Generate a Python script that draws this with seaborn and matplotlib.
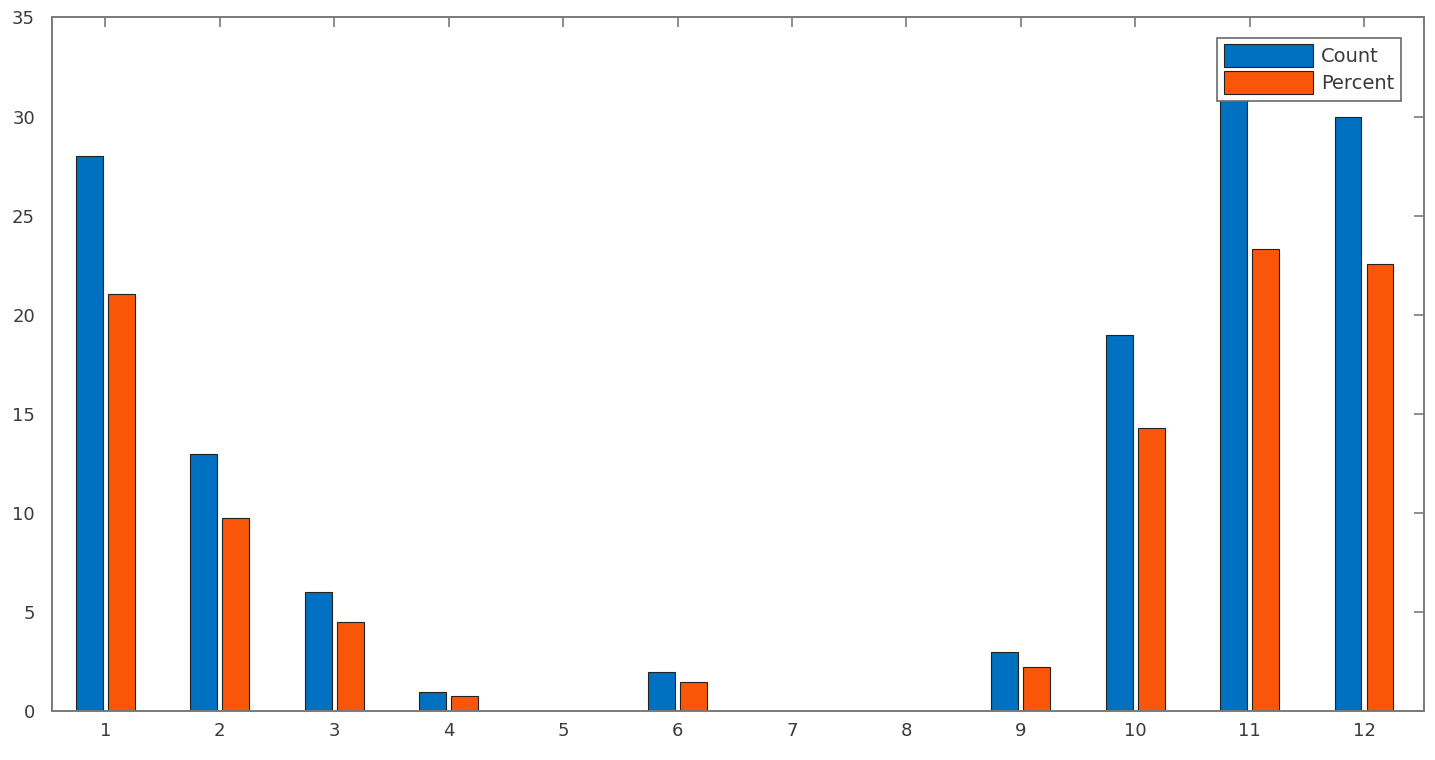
import pandas as pd
import matplotlib.pyplot as plt
import seaborn as sns

# data
categories = ['1', '2', '3', '4', '5', '6', '7', '8', '9', '10', '11', '12']
count = [28, 13, 6, 1, 0, 2, 0, 0, 3, 19, 31, 30]
percent = [21.05, 9.77, 4.51, 0.75, 0, 1.50, 0, 0, 2.26, 14.29, 23.31, 22.56]

df = pd.DataFrame({
    'Category': categories * 2,
    'Value': count + percent,
    'Series': ['Count'] * len(categories) + ['Percent'] * len(categories),
})

sns.set_theme(style="white")
plt.rcParams['font.family'] = ['DejaVu Sans']

fig = plt.figure(figsize=(14.35, 7.6), dpi=100)
ax = fig.add_axes([0.036, 0.064, 0.956, 0.913])

sns.barplot(
    data=df, x='Category', y='Value', hue='Series',
    palette=['#0070C0', '#FA560A'], width=0.56, gap=0.16,
    edgecolor='#222222', linewidth=0.8, saturation=1, ax=ax,
)

ax.set_xlim(-0.47, 11.52)
ax.set_ylim(0, 35)
ax.set_yticks(range(0, 36, 5))
ax.set_xlabel('')
ax.set_ylabel('')

for s in ax.spines.values():
    s.set_visible(True)
    s.set_color('#7a7a7a')
    s.set_linewidth(1.4)

ax.tick_params(axis='both', direction='in', top=True, right=True,
               length=7, width=1.2, color='#7a7a7a',
               labelsize=13, labelcolor='#3a3a3a', pad=8)
ax.tick_params(axis='y', pad=12)

leg = ax.legend(loc='upper right', bbox_to_anchor=(0.9835, 0.971),
                fontsize=14, frameon=True, fancybox=False, framealpha=1,
                handlelength=4.6, handleheight=1.45, handletextpad=0.4,
                borderpad=0.35, labelspacing=0.2, borderaxespad=0)
leg.get_frame().set_edgecolor('#6a6a6a')
leg.get_frame().set_linewidth(1.2)
for t in leg.get_texts():
    t.set_color('#3a3a3a')

plt.savefig('out.png', dpi=100)
